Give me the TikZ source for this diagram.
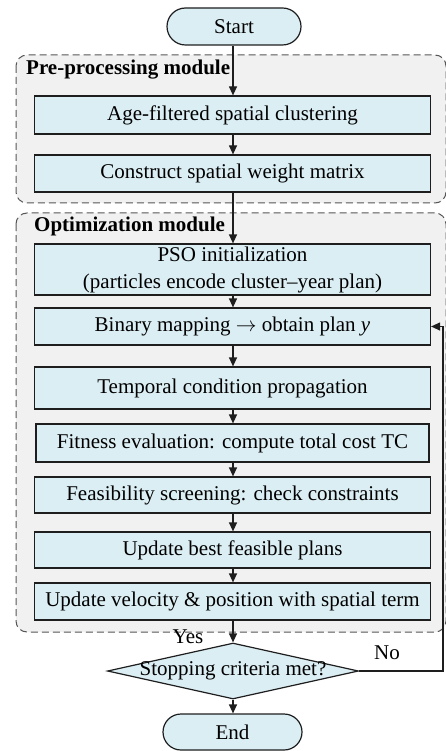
\documentclass[tikz,border=0pt]{standalone}
\usepackage{fontspec}
\setmainfont{Liberation Serif}
\usetikzlibrary{shapes.geometric,shapes.misc,arrows.meta}
\definecolor{boxfill}{RGB}{219,238,244}
\definecolor{modfill}{RGB}{241,241,241}
\definecolor{edge}{RGB}{30,30,30}
\tikzset{
  procbox/.style={draw=edge, line width=1.2pt, fill=boxfill, minimum width=396pt, inner sep=0pt, align=center, font=\fontsize{21}{27}\selectfont},
  pill/.style={draw=edge, line width=1.2pt, fill=boxfill, rounded rectangle, minimum width=134pt, minimum height=37pt, inner sep=0pt, font=\fontsize{21}{24}\selectfont},
  decision/.style={draw=edge, line width=1.2pt, fill=boxfill, diamond, minimum width=251pt, minimum height=56pt, inner sep=0pt, font=\fontsize{21}{24}\selectfont},
  module/.style={draw=edge!75, line width=1pt, dash pattern=on 7pt off 4pt, fill=modfill, rounded corners=11pt},
  modlabel/.style={font=\bfseries\fontsize{21}{24}\selectfont, anchor=west, inner sep=0pt},
  flow/.style={draw=edge, line width=1.2pt, -{Triangle[length=9pt,width=8pt]}},
  lbl/.style={font=\fontsize{21}{24}\selectfont, inner sep=0pt}
}
\begin{document}
\begin{tikzpicture}[x=1pt,y=-1pt]
\useasboundingbox (0,0) rectangle (445,751);
% modules
\draw[module] (16,55) rectangle (446,203);
\draw[module] (16,213) rectangle (446,632);
\node[modlabel] (lpre) at (26,70) {Pre-processing module};
\node[modlabel] (lopt) at (34,226) {Optimization module};
% nodes
\node[pill] (start) at (234,26.5) {Start};
\node[procbox, minimum height=38pt] (b1) at (232.5,115) {Age-filtered spatial clustering};
\node[procbox, minimum height=37pt] (b2) at (232.5,173.5) {Construct spatial weight matrix};
\node[procbox, minimum height=51pt] (b3) at (232.5,269.5) {PSO initialization\\(particles encode cluster–year plan)};
\node[procbox, minimum height=37pt] (b4) at (232.5,326.5) {Binary mapping $\rightarrow$ obtain plan \textit{y}};
\node[procbox, minimum height=42pt] (b5) at (232.5,388) {Temporal condition propagation};
\node[procbox, minimum height=38pt, minimum width=393pt] (b6) at (232.5,443) {Fitness evaluation: compute total cost TC};
\node[procbox, minimum height=36pt] (b7) at (232.5,495) {Feasibility screening: check constraints};
\node[procbox, minimum height=36pt] (b8) at (232.5,550) {Update best feasible plans};
\node[procbox, minimum height=37pt] (b9) at (232.5,601.5) {Update velocity \& position with spatial term};
\node[decision] (dec) at (233,671) {\makebox[0pt]{Stopping criteria met?}};
\node[pill, minimum width=139pt, minimum height=36pt] (end) at (232.5,732) {End};
\node[lbl] (yes) at (188,637) {Yes};
\node[lbl] (no) at (387,653) {No};
\coordinate (fbr) at (443,671);
\coordinate (fbt) at (443,326.5);
% connectors
\draw[flow] (start.south -| 233,0) -- (b1.north -| 233,0);
\draw[flow] (b1.south -| 233,0) -- (b2.north -| 233,0);
\draw[flow] (b2.south -| 233,0) -- (b3.north -| 233,0);
\draw[flow] (b3.south -| 233,0) -- (b4.north -| 233,0);
\draw[flow] (b4.south -| 233,0) -- (b5.north -| 233,0);
\draw[flow] (b5.south -| 233,0) -- (b6.north -| 233,0);
\draw[flow] (b6.south -| 233,0) -- (b7.north -| 233,0);
\draw[flow] (b7.south -| 233,0) -- (b8.north -| 233,0);
\draw[flow] (b8.south -| 233,0) -- (b9.north -| 233,0);
\draw[flow] (b9.south -| 233,0) -- (dec.north);
\draw[flow] (dec.south) -- (end.north -| dec.south);
\draw[flow] (dec.east) -- (fbr) -- (fbt) -- (b4.east);
\end{tikzpicture}
\end{document}
